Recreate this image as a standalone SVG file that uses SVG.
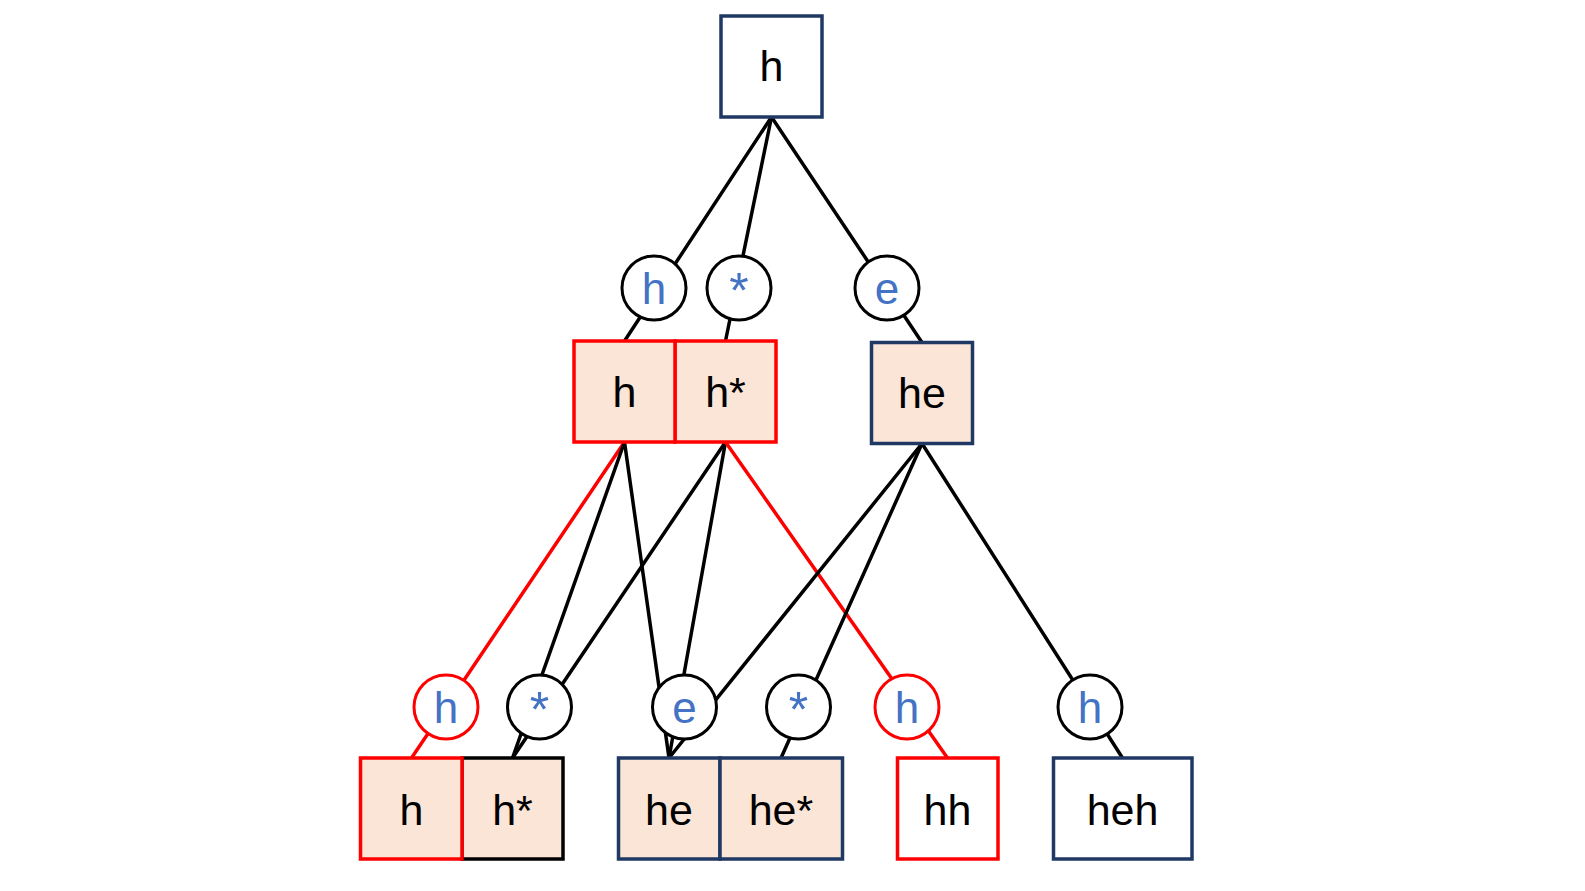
<svg xmlns="http://www.w3.org/2000/svg" width="1585" height="891" viewBox="0 0 1585 891">
  <style>
    .bg { fill: #ffffff; }
    .edge { stroke: #000000; stroke-width: 3.5; fill: none; stroke-linecap: round; }
    .edge.hot { stroke: #ff0000; }
    .box { stroke-width: 3.5; }
    .navy { stroke: #1f3864; }
    .red { stroke: #ff0000; }
    .blk { stroke: #000000; }
    .peach { fill: #fbe5d6; }
    .plain { fill: #ffffff; }
    .sym { fill: #ffffff; stroke-width: 3; }
    .label { font-family: "Liberation Sans", Arial, sans-serif; font-size: 43px; fill: #000000; text-anchor: middle; }
    .key { font-family: "Liberation Sans", Arial, sans-serif; font-size: 44px; fill: #4472c4; text-anchor: middle; }
    .star { font-size: 50px; }
  </style>

  <rect class="bg" x="0" y="0" width="1585" height="891"/>

  <!-- parent-to-child connectors -->
  <g id="connectors">
    <line class="edge" x1="771.5" y1="117" x2="624.5" y2="341"/>
    <line class="edge" x1="771.5" y1="117" x2="725.5" y2="341"/>
    <line class="edge" x1="771.5" y1="117" x2="922" y2="342.5"/>

    <line class="edge hot" x1="624.5" y1="442" x2="411.5" y2="758"/>
    <line class="edge" x1="624.5" y1="442" x2="512.5" y2="758"/>
    <line class="edge" x1="624.5" y1="442" x2="669" y2="758"/>

    <line class="edge" x1="725.5" y1="442" x2="512.5" y2="758"/>
    <line class="edge" x1="725.5" y1="442" x2="669" y2="758"/>
    <line class="edge hot" x1="725.5" y1="442" x2="947.5" y2="758"/>

    <line class="edge" x1="922" y1="443.5" x2="669" y2="758"/>
    <line class="edge" x1="922" y1="443.5" x2="781" y2="758"/>
    <line class="edge" x1="922" y1="443.5" x2="1122.5" y2="758"/>
  </g>

  <!-- root -->
  <g id="root-h">
    <rect class="box navy plain" x="721" y="16" width="101" height="101"/>
    <text class="label" x="771.5" y="81">h</text>
  </g>

  <!-- first level symbols -->
  <g id="sym1-h">
    <circle class="sym blk" cx="654" cy="288" r="32"/>
    <text class="key" x="654" y="304">h</text>
  </g>
  <g id="sym1-star">
    <circle class="sym blk" cx="739" cy="288" r="32"/>
    <text class="key star" x="739" y="308">*</text>
  </g>
  <g id="sym1-e">
    <circle class="sym blk" cx="887" cy="288" r="32"/>
    <text class="key" x="887" y="304">e</text>
  </g>

  <!-- first level states -->
  <g id="state1-hstar">
    <rect class="box red peach" x="675" y="341" width="101" height="101"/>
    <text class="label" x="725.5" y="407">h*</text>
  </g>
  <g id="state1-h">
    <rect class="box red peach" x="574" y="341" width="101" height="101"/>
    <text class="label" x="624.5" y="407">h</text>
  </g>
  <g id="state1-he">
    <rect class="box navy peach" x="871.5" y="342.5" width="101" height="101"/>
    <text class="label" x="922" y="408">he</text>
  </g>

  <!-- second level symbols -->
  <g id="sym2-h-a">
    <circle class="sym red" cx="446" cy="707" r="32"/>
    <text class="key" x="446" y="723">h</text>
  </g>
  <g id="sym2-star-a">
    <circle class="sym blk" cx="539.5" cy="707" r="32"/>
    <text class="key star" x="539.5" y="727">*</text>
  </g>
  <g id="sym2-e">
    <circle class="sym blk" cx="684.5" cy="707" r="32"/>
    <text class="key" x="684.5" y="723">e</text>
  </g>
  <g id="sym2-star-b">
    <circle class="sym blk" cx="798.5" cy="707" r="32"/>
    <text class="key star" x="798.5" y="727">*</text>
  </g>
  <g id="sym2-h-b">
    <circle class="sym red" cx="907" cy="707" r="32"/>
    <text class="key" x="907" y="723">h</text>
  </g>
  <g id="sym2-h-c">
    <circle class="sym blk" cx="1090" cy="707" r="32"/>
    <text class="key" x="1090" y="723">h</text>
  </g>

  <!-- second level states -->
  <g id="state2-hstar">
    <rect class="box blk peach" x="462" y="758" width="101" height="101"/>
    <text class="label" x="512.5" y="825">h*</text>
  </g>
  <g id="state2-h">
    <rect class="box red peach" x="360.5" y="758" width="101.5" height="101"/>
    <text class="label" x="411.5" y="825">h</text>
  </g>
  <g id="state2-he">
    <rect class="box navy peach" x="618.5" y="758" width="101.5" height="101"/>
    <text class="label" x="669" y="825">he</text>
  </g>
  <g id="state2-hestar">
    <rect class="box navy peach" x="720" y="758" width="122.5" height="101"/>
    <text class="label" x="781" y="825">he*</text>
  </g>
  <g id="state2-hh">
    <rect class="box red plain" x="897.5" y="758" width="100.5" height="101"/>
    <text class="label" x="947.5" y="825">hh</text>
  </g>
  <g id="state2-heh">
    <rect class="box navy plain" x="1053.5" y="758" width="138.5" height="101"/>
    <text class="label" x="1122.5" y="825">heh</text>
  </g>
</svg>
